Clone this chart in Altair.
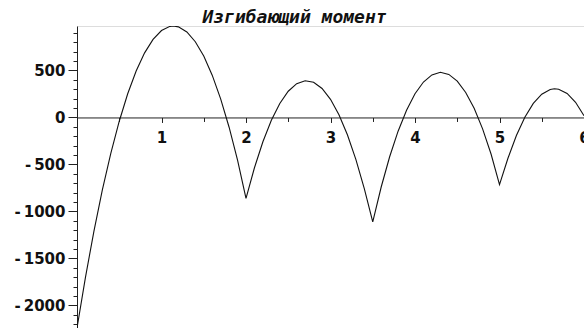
import altair as alt
import pandas as pd

# Bending moment along the beam (position in m, moment value)
x_pos = [0.0, 0.1, 0.2, 0.3, 0.4, 0.5, 0.6, 0.7, 0.8, 0.9, 1.0, 1.1, 1.14, 1.2,
         1.3, 1.4, 1.5, 1.6, 1.7, 1.8, 1.9, 2.0,
         2.1, 2.2, 2.3, 2.4, 2.5, 2.6, 2.7, 2.8, 2.9, 3.0, 3.1, 3.2, 3.3, 3.4, 3.5,
         3.6, 3.7, 3.8, 3.9, 4.0, 4.1, 4.2, 4.3, 4.4, 4.5, 4.6, 4.7, 4.8, 4.9, 5.0,
         5.1, 5.2, 5.3, 5.4, 5.5, 5.6, 5.65, 5.7, 5.8, 5.9, 6.0]
moment = [-2240, -1701, -1211, -771, -381, -40, 252, 494, 687, 831, 925, 969, 973, 964,
          910, 806, 653, 450, 198, -104, -455, -860,
          -535, -258, -30, 149, 279, 360, 391, 374, 308, 193, 29, -184, -446, -758, -1110,
          -740, -418, -146, 77, 252, 377, 453, 480, 458, 387, 266, 97, -121, -389, -715,
          -434, -192, 3, 149, 247, 298, 305, 300, 255, 161, 19]

# Axis ticks: labelled majors plus unlabelled minors
x_ticks = [0.5, 1, 1.5, 2, 2.5, 3, 3.5, 4, 4.5, 5, 5.5, 6]
y_ticks = [-2200, -2100, -2000, -1900, -1800, -1700, -1600, -1500, -1400, -1300,
           -1200, -1100, -1000, -900, -800, -700, -600, -500, -400, -300, -200,
           -100, 0, 100, 200, 300, 400, 500, 600, 700, 800, 900]

x_domain = [0, 6]
y_domain = [-2240, 973]

W, H = 507, 302
# put the x axis on the line M = 0
x_axis_offset = -H * (0 - y_domain[0]) / (y_domain[1] - y_domain[0])

df = pd.DataFrame({"x": x_pos, "M": moment})

label_font = "DejaVu Sans"
# negative labels written as hyphen + thin space
y_label_expr = (
    "datum.value % 500 === 0 ? "
    "(datum.value < 0 ? '-\u2009' + abs(datum.value) : '' + datum.value) : ''"
)

chart = alt.Chart(df).mark_line(color="#111111", strokeWidth=1.1, clip=True).encode(
    x=alt.X("x:Q",
            scale=alt.Scale(domain=x_domain, nice=False, zero=False),
            axis=alt.Axis(
                title=None, values=x_ticks, grid=False,
                offset=x_axis_offset,
                labelExpr="datum.value % 1 === 0 ? format(datum.value, 'd') : ''",
                labelFlush=False, labelOverlap=False,
                tickSize=alt.condition("datum.value % 1 === 0", alt.value(5), alt.value(4)),
                labelPadding=8,
                domainColor="#222222", tickColor="#222222",
                labelFont=label_font, labelFontSize=15, labelFontWeight="bold",
                labelColor="#111111")),
    y=alt.Y("M:Q",
            scale=alt.Scale(domain=y_domain, nice=False, zero=False),
            axis=alt.Axis(
                title=None, values=y_ticks, grid=False,
                labelExpr=y_label_expr,
                labelOverlap=False,
                tickSize=alt.condition("datum.value % 500 === 0", alt.value(9), alt.value(4)),
                labelPadding=3,
                domainColor="#222222", tickColor="#222222",
                labelFont=label_font, labelFontSize=15, labelFontWeight="bold",
                labelColor="#111111")),
).properties(
    width=W, height=H,
    title=alt.Title("Изгибающий момент", font="DejaVu Sans Mono", fontSize=18,
                    fontStyle="italic", fontWeight="bold", color="#111111",
                    offset=-1, dx=-36),
    autosize=alt.AutoSizeParams(type="none"),
    padding={"left": 77, "top": 26, "right": 0, "bottom": 0},
).configure_view(stroke=None).configure(background="white")

chart.save("out.html", embed_options={"renderer": "svg", "actions": False})
